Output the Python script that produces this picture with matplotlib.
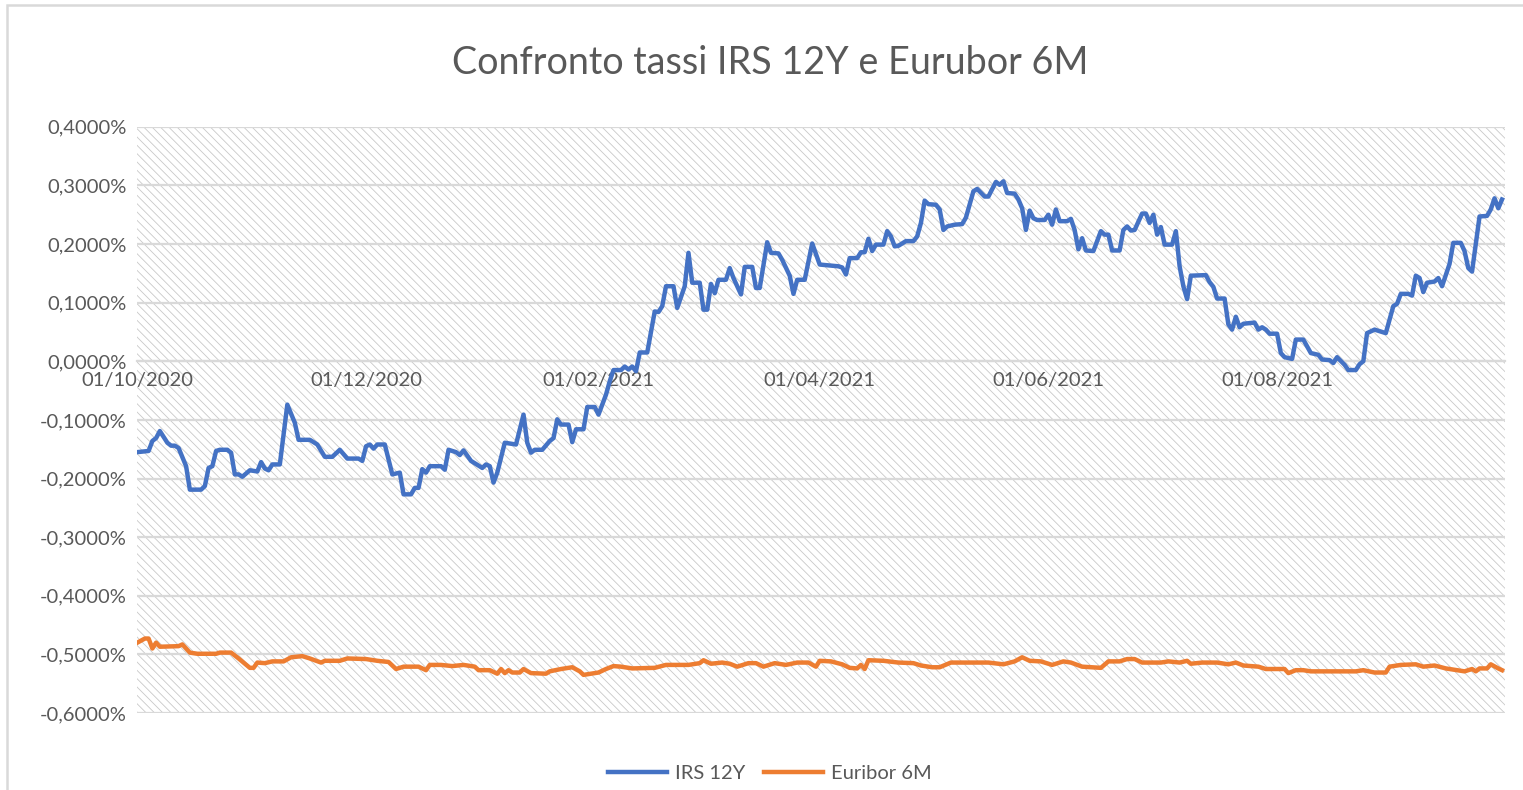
import pandas as pd
import matplotlib
matplotlib.use('Agg')
from matplotlib import pyplot as plt
from matplotlib.patches import Rectangle
from matplotlib.ticker import FuncFormatter

# giorni dal 01/10/2020, tassi in %
START = pd.Timestamp(2020, 10, 1)

irs_days = [0, 3, 4, 5, 6, 8, 9, 10, 11, 13, 14, 17, 18, 19, 20, 21, 22, 24, 25, 26,
            27, 28, 30, 32, 33, 34, 35, 36, 38, 40, 42, 43, 46, 48, 50, 52, 54, 56, 59, 60,
            61, 62, 63, 64, 66, 68, 70, 71, 73, 74, 75, 76, 77, 78, 81, 82, 83, 85, 86, 87,
            89, 92, 93, 94, 95, 96, 98, 101, 103, 104, 105, 106, 108, 110, 111, 112, 113, 115, 116, 117,
            119, 120, 122, 123, 125, 126, 127, 129, 130, 131, 132, 133, 134, 136, 138, 139, 140, 141, 143, 144,
            146, 147, 148, 150, 151, 152, 153, 154, 155, 157, 158, 159, 161, 162, 164, 165, 166, 168, 169, 171,
            172, 174, 175, 176, 178, 180, 182, 187, 188, 189, 190, 192, 193, 194, 195, 196, 197, 199, 200, 201,
            202, 203, 205, 207, 208, 209, 210, 211, 213, 214, 215, 216, 218, 220, 221, 223, 224, 226, 227, 229,
            230, 231, 232, 234, 235, 236, 237, 238, 239, 240, 242, 243, 244, 245, 246, 248, 249, 250, 251, 252,
            253, 255, 257, 258, 259, 260, 262, 263, 264, 265, 266, 268, 269, 270, 271, 272, 273, 274, 276, 277,
            278, 279, 280, 281, 285, 286, 287, 288, 290, 291, 292, 293, 294, 295, 298, 299, 300, 301, 302, 304,
            305, 306, 308, 309, 311, 313, 315, 316, 318, 319, 320, 322, 323, 325, 326, 327, 328, 330, 333, 335,
            336, 337, 339, 340, 341, 342, 343, 344, 346, 347, 348, 350, 351, 353, 354, 355, 356, 358, 360, 361,
            362, 363, 364]
irs_values = [-0.155, -0.153, -0.136, -0.131, -0.119, -0.139, -0.144, -0.144, -0.148, -0.179,
              -0.219, -0.219, -0.213, -0.182, -0.179, -0.153, -0.151, -0.151, -0.156, -0.193,
              -0.193, -0.197, -0.186, -0.188, -0.172, -0.183, -0.186, -0.176, -0.176, -0.074,
              -0.105, -0.134, -0.134, -0.142, -0.163, -0.163, -0.151, -0.166, -0.166, -0.170,
              -0.145, -0.142, -0.149, -0.142, -0.142, -0.193, -0.190, -0.227, -0.227, -0.216,
              -0.216, -0.184, -0.190, -0.179, -0.179, -0.185, -0.151, -0.155, -0.160, -0.152,
              -0.170, -0.182, -0.176, -0.179, -0.207, -0.190, -0.139, -0.142, -0.091, -0.139,
              -0.156, -0.151, -0.151, -0.136, -0.131, -0.099, -0.108, -0.108, -0.138, -0.116,
              -0.116, -0.078, -0.078, -0.091, -0.057, -0.034, -0.015, -0.015, -0.009, -0.014,
              -0.009, -0.017, 0.015, 0.015, 0.085, 0.084, 0.094, 0.128, 0.128, 0.091,
              0.128, 0.185, 0.134, 0.134, 0.088, 0.088, 0.132, 0.116, 0.139, 0.139,
              0.159, 0.142, 0.114, 0.161, 0.161, 0.125, 0.125, 0.203, 0.185, 0.184,
              0.173, 0.146, 0.115, 0.139, 0.139, 0.201, 0.165, 0.162, 0.160, 0.148,
              0.176, 0.176, 0.186, 0.186, 0.209, 0.188, 0.199, 0.199, 0.222, 0.213,
              0.196, 0.197, 0.205, 0.205, 0.213, 0.236, 0.274, 0.268, 0.267, 0.259,
              0.224, 0.230, 0.233, 0.234, 0.245, 0.290, 0.294, 0.281, 0.281, 0.306,
              0.301, 0.307, 0.287, 0.286, 0.276, 0.261, 0.224, 0.257, 0.244, 0.241,
              0.241, 0.250, 0.233, 0.259, 0.239, 0.239, 0.243, 0.224, 0.191, 0.210,
              0.189, 0.188, 0.222, 0.216, 0.216, 0.189, 0.189, 0.224, 0.230, 0.223,
              0.224, 0.252, 0.252, 0.236, 0.250, 0.216, 0.229, 0.199, 0.199, 0.222,
              0.162, 0.128, 0.106, 0.146, 0.147, 0.135, 0.127, 0.107, 0.107, 0.063,
              0.054, 0.076, 0.058, 0.064, 0.066, 0.054, 0.058, 0.054, 0.047, 0.047,
              0.014, 0.007, 0.004, 0.037, 0.037, 0.014, 0.011, 0.003, 0.002, -0.003,
              0.007, -0.006, -0.015, -0.015, -0.005, 0.000, 0.048, 0.054, 0.048, 0.094,
              0.098, 0.115, 0.115, 0.112, 0.146, 0.142, 0.118, 0.134, 0.136, 0.142,
              0.128, 0.166, 0.202, 0.202, 0.188, 0.159, 0.153, 0.247, 0.248, 0.259,
              0.278, 0.261, 0.276]

eur_days = [0, 2, 3, 4, 5, 6, 11, 12, 14, 16, 21, 22, 25, 27, 30, 31, 32, 34, 36, 39,
            41, 44, 46, 49, 50, 54, 56, 61, 64, 67, 69, 71, 75, 77, 78, 81, 84, 87, 90, 91,
            94, 96, 97, 98, 99, 100, 102, 103, 105, 109, 110, 113, 116, 118, 119, 123, 125, 127, 129, 132,
            138, 141, 147, 150, 151, 153, 156, 158, 160, 163, 165, 167, 170, 173, 176, 179, 181, 182, 185, 188,
            190, 192, 193, 194, 195, 199, 203, 207, 209, 212, 214, 217, 222, 227, 231, 234, 236, 238, 241, 244,
            247, 249, 252, 257, 259, 262, 264, 266, 268, 273, 275, 278, 280, 281, 284, 288, 291, 293, 295, 299,
            301, 306, 307, 309, 311, 313, 319, 325, 327, 330, 333, 334, 337, 341, 343, 346, 349, 352, 354, 356,
            357, 358, 360, 361, 363, 364]
eur_values = [-0.480, -0.473, -0.473, -0.490, -0.480, -0.487, -0.486, -0.483, -0.497, -0.499,
              -0.499, -0.497, -0.497, -0.507, -0.523, -0.523, -0.514, -0.515, -0.512, -0.512,
              -0.505, -0.503, -0.507, -0.514, -0.511, -0.511, -0.507, -0.508, -0.511, -0.513,
              -0.525, -0.521, -0.521, -0.527, -0.518, -0.518, -0.520, -0.518, -0.521, -0.527,
              -0.527, -0.533, -0.525, -0.532, -0.527, -0.531, -0.531, -0.525, -0.532, -0.533,
              -0.529, -0.525, -0.522, -0.529, -0.535, -0.531, -0.525, -0.520, -0.521, -0.524,
              -0.523, -0.518, -0.518, -0.515, -0.510, -0.516, -0.514, -0.516, -0.521, -0.515,
              -0.515, -0.521, -0.515, -0.518, -0.514, -0.514, -0.521, -0.511, -0.512, -0.517,
              -0.523, -0.524, -0.518, -0.525, -0.510, -0.511, -0.514, -0.515, -0.519, -0.522,
              -0.522, -0.514, -0.514, -0.514, -0.517, -0.512, -0.505, -0.511, -0.512, -0.518,
              -0.512, -0.514, -0.521, -0.523, -0.512, -0.512, -0.508, -0.508, -0.514, -0.514,
              -0.512, -0.514, -0.511, -0.516, -0.514, -0.514, -0.517, -0.514, -0.519, -0.521,
              -0.525, -0.525, -0.532, -0.527, -0.527, -0.529, -0.529, -0.529, -0.527, -0.531,
              -0.531, -0.521, -0.518, -0.517, -0.521, -0.519, -0.524, -0.527, -0.529, -0.525,
              -0.529, -0.524, -0.524, -0.517, -0.524, -0.527]

tick_labels = ['01/10/2020', '01/12/2020', '01/02/2021', '01/04/2021', '01/06/2021', '01/08/2021']
y_ticks = [-0.6, -0.5, -0.4, -0.3, -0.2, -0.1, 0.0, 0.1, 0.2, 0.3, 0.4]

GREY_TXT = '#595959'
GRID = '#d9d9d9'

plt.rcParams['font.family'] = ['Lato', 'DejaVu Sans']
plt.rcParams['hatch.linewidth'] = 0.6


def to_dates(days):
    return START + pd.to_timedelta(days, unit='D')


def fmt_pct(v, pos):
    return ('%.4f%%' % v).replace('.', ',')


def main():
    fig = plt.figure(figsize=(15.23, 7.9), dpi=100)
    ax = fig.add_axes([0.0897, 0.0975, 0.8985, 0.742])

    # sfondo tratteggiato stile Excel
    ax.add_patch(Rectangle((0, 0), 1, 1, transform=ax.transAxes, facecolor='white',
                           edgecolor='#c8c8c8', hatch='\\\\\\\\', lw=0, zorder=0))

    ax.plot(to_dates(irs_days), irs_values, color='#4472C4', lw=3.2, label='IRS 12Y',
            solid_joinstyle='round', zorder=3)
    ax.plot(to_dates(eur_days), eur_values, color='#ED7D31', lw=3.2, label='Euribor 6M',
            solid_joinstyle='round', zorder=3)

    ax.set_ylim(-0.6, 0.4)
    ax.set_yticks(y_ticks)
    ax.yaxis.set_major_formatter(FuncFormatter(fmt_pct))
    ax.set_xlim(START - pd.Timedelta(days=0.2), START + pd.Timedelta(days=364.8))
    ax.set_xticks(pd.to_datetime(tick_labels, format='%d/%m/%Y'))
    ax.set_xticklabels(tick_labels)

    ax.set_axisbelow(True)
    ax.yaxis.grid(True, color=GRID, lw=1.6, zorder=1)
    for s in ['top', 'right', 'left']:
        ax.spines[s].set_visible(False)
    ax.spines['bottom'].set_position(('data', 0))
    ax.spines['bottom'].set_color(GRID)
    ax.spines['bottom'].set_linewidth(1.6)
    ax.tick_params(axis='both', length=0, labelsize=14.5, colors=GREY_TXT)
    ax.tick_params(axis='x', pad=7.5)
    ax.tick_params(axis='y', pad=7)

    fig.text(0.5056, 0.92, 'Confronto tassi IRS 12Y e Eurubor 6M', ha='center', va='center',
             fontsize=27.2, color=GREY_TXT)

    fig.legend(loc='center', bbox_to_anchor=(0.5056, 0.021), ncol=2, frameon=False,
               fontsize=14.5, handlelength=2.95, handletextpad=0.4, columnspacing=0.9,
               labelcolor=GREY_TXT)

    # bordo del grafico
    fig.patches.append(Rectangle((7 / 1523, -0.1), 1.2, 1.1 - 5 / 790, transform=fig.transFigure,
                                 fill=False, edgecolor=GRID, lw=1.8))

    fig.savefig('out.png', dpi=100)


if __name__ == "__main__":
    main()
